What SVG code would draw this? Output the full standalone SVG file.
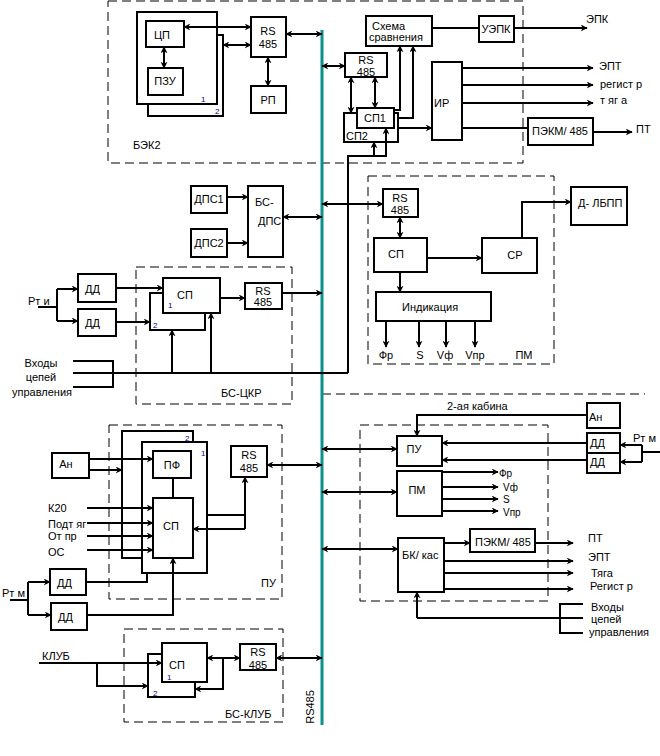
<svg xmlns="http://www.w3.org/2000/svg" width="660" height="756" viewBox="0 0 660 756">
<style>
.b{fill:#fff;stroke:#000;stroke-width:2}
.d{fill:none;stroke:#000;stroke-width:1;stroke-dasharray:9 5}
.c{fill:none;stroke:#000;stroke-width:2}
.ar{marker-end:url(#ah)}
.da{marker-start:url(#ah);marker-end:url(#ah)}
text{font-family:"Liberation Sans",Arial,sans-serif;font-size:11px;fill:#000}
.m{text-anchor:middle}
.n{font-size:8px;fill:#00008b}
.s{font-size:10px}
</style>
<defs>
<marker id="ah" viewBox="0 0 10 10" refX="9" refY="5" markerWidth="7" markerHeight="7" markerUnits="userSpaceOnUse" orient="auto-start-reverse"><path d="M0,0 L10,5 L0,10 L3,5 z" fill="#000"/></marker>
</defs>
<rect width="660" height="756" fill="#fff"/>

<g id="frames">
<rect class="d" x="108" y="1" width="415" height="162"/>
<rect class="d" x="368" y="176" width="186" height="188"/>
<rect class="d" x="136" y="267" width="156" height="137"/>
<rect class="d" x="109" y="425" width="173" height="174"/>
<rect class="d" x="360" y="425" width="188" height="176"/>
<rect class="d" x="124" y="629" width="159" height="93"/>
<line class="d" x1="322" y1="394" x2="645" y2="394"/>
<text x="133" y="149">БЭК2</text>
<text x="221" y="397">БС-ЦКР</text>
<text x="261" y="587">ПУ</text>
<text x="225" y="718">БС-КЛУБ</text>
<text x="524" y="359" class="m">ПМ</text>
</g>

<g id="bus">
<line x1="322" y1="30" x2="322" y2="725" stroke="#0a918e" stroke-width="3"/>
<text transform="translate(314,707) rotate(-90)" class="m">RS485</text>
</g>

<g id="bek2-box2"><rect class="b" x="148" y="35" width="75" height="81"/><text x="215" y="114" class="n">2</text></g>
<g id="bek2-box1"><rect class="b" x="137" y="12" width="80" height="92"/><text x="201" y="102" class="n">1</text></g>
<g id="cp"><rect class="b" x="146" y="21" width="38" height="26"/><text x="162" y="39" class="m">ЦП</text></g>
<g id="pzu"><rect class="b" x="148" y="68" width="35" height="27"/><text x="165" y="85" class="m">ПЗУ</text></g>
<g id="rs1"><rect class="b" x="251" y="17" width="35" height="40"/><text x="268" y="35" class="m">RS</text><text x="268" y="48" class="m">485</text></g>
<g id="rp"><rect class="b" x="251" y="86" width="35" height="27"/><text x="268" y="104" class="m">РП</text></g>

<g id="schema"><rect class="b" x="366" y="16" width="66" height="30"/><text x="372" y="30">Схема</text><text x="369" y="41">сравнения</text></g>
<g id="rs2"><rect class="b" x="345" y="53" width="42" height="24"/><text x="366" y="64" class="m">RS</text><text x="366" y="76" class="m">485</text></g>
<g id="sp2"><rect class="b" x="344" y="113" width="54" height="29"/><text x="346" y="140">СП2</text></g>
<g id="sp1"><rect class="b" x="357" y="108" width="37" height="20"/><text x="375" y="122" class="m">СП1</text></g>
<g id="ir"><rect class="b" x="432" y="62" width="30" height="78"/><text x="434" y="107">ИР</text></g>
<g id="uepk"><rect class="b" x="479" y="16" width="35" height="26"/><text x="496" y="33" class="m">УЭПК</text></g>
<g id="pekm1"><rect class="b" x="528" y="118" width="65" height="27"/><text x="560" y="135" class="m">ПЭКМ/ 485</text></g>
<g id="out-top">
<text x="586" y="23">ЭПК</text>
<text x="599" y="70">ЭПТ</text>
<text x="600" y="88">регист р</text>
<text x="600" y="104">т яг а</text>
<text x="636" y="133">ПТ</text>
</g>

<g id="dps1"><rect class="b" x="191" y="186" width="36" height="27"/><text x="209" y="203" class="m">ДПС1</text></g>
<g id="dps2"><rect class="b" x="191" y="229" width="36" height="28"/><text x="209" y="247" class="m">ДПС2</text></g>
<g id="bs-dps"><rect class="b" x="248" y="186" width="35" height="71"/><text x="255" y="206">БС-</text><text x="258" y="225">ДПС</text></g>

<g id="rs-pm"><rect class="b" x="383" y="189" width="35" height="28"/><text x="400" y="202" class="m">RS</text><text x="400" y="214" class="m">485</text></g>
<g id="sp-pm"><rect class="b" x="374" y="238" width="53" height="34"/><text x="396" y="258" class="m">СП</text></g>
<g id="sr"><rect class="b" x="482" y="238" width="55" height="35"/><text x="515" y="259" class="m">СР</text></g>
<g id="dlbpp"><rect class="b" x="571" y="187" width="56" height="38"/><text x="578" y="207">Д- ЛБПП</text></g>
<g id="ind"><rect class="b" x="376" y="292" width="115" height="29"/><text x="402" y="311">Индикация</text></g>
<g id="pm-out">
<text x="386" y="359" class="m">Фр</text>
<text x="420" y="359" class="m">S</text>
<text x="445" y="359" class="m">Vф</text>
<text x="475" y="359" class="m">Vпр</text>
</g>

<g id="dd-rti1"><rect class="b" x="78" y="274" width="38" height="28"/><text x="85" y="293">ДД</text></g>
<g id="dd-rti2"><rect class="b" x="78" y="309" width="38" height="27"/><text x="85" y="327">ДД</text></g>
<text x="28" y="305">Рт и</text>
<g id="sp-ckr2"><rect class="b" x="150" y="293" width="55" height="37"/><text x="153" y="328" class="n">2</text></g>
<g id="sp-ckr1"><rect class="b" x="163" y="278" width="57" height="35"/><text x="185" y="299" class="m">СП</text><text x="168" y="308" class="n">1</text></g>
<g id="rs-ckr"><rect class="b" x="245" y="283" width="37" height="26"/><text x="263" y="295" class="m">RS</text><text x="263" y="306" class="m">485</text></g>
<g id="inputs-left">
<text x="41" y="367" class="m">Входы</text>
<text x="41" y="381" class="m">цепей</text>
<text x="42" y="396" class="m">управления</text>
</g>

<g id="pu-box2"><rect class="b" x="122" y="431" width="71" height="127"/><text x="185" y="441" class="n">2</text></g>
<g id="pu-box1"><rect class="b" x="142" y="442" width="65" height="131"/><text x="201" y="456" class="n">1</text></g>
<g id="pf"><rect class="b" x="153" y="451" width="38" height="27"/><text x="172" y="469" class="m">ПФ</text></g>
<g id="sp-pu"><rect class="b" x="153" y="498" width="40" height="60"/><text x="171" y="530" class="m">СП</text></g>
<g id="an-l"><rect class="b" x="52" y="453" width="37" height="25"/><text x="66" y="468" class="m">Ан</text></g>
<g id="pu-in">
<text x="48" y="512">К20</text>
<text x="48" y="528">Подт яг</text>
<text x="48" y="540">От пр</text>
<text x="48" y="556">ОС</text>
</g>
<g id="rs-pu"><rect class="b" x="231" y="446" width="36" height="31"/><text x="249" y="459" class="m">RS</text><text x="249" y="472" class="m">485</text></g>
<text x="2" y="597">Рт м</text>
<g id="dd-rtm1"><rect class="b" x="50" y="569" width="36" height="26"/><text x="57" y="587">ДД</text></g>
<g id="dd-rtm2"><rect class="b" x="51" y="603" width="36" height="27"/><text x="58" y="621">ДД</text></g>

<g id="an-r"><rect class="b" x="587" y="403" width="33" height="25"/><text x="589" y="421">Ан</text></g>
<g id="dd-r1"><rect class="b" x="587" y="433" width="33" height="20"/><text x="590" y="447">ДД</text></g>
<g id="dd-r2"><rect class="b" x="587" y="453" width="33" height="20"/><text x="590" y="466">ДД</text></g>
<text x="633" y="442">Рт м</text>
<text x="447" y="410">2-ая кабина</text>
<g id="pu-r"><rect class="b" x="397" y="436" width="45" height="30"/><text x="414" y="453" class="m">ПУ</text></g>
<g id="pm-r"><rect class="b" x="397" y="471" width="45" height="45"/><text x="417" y="494" class="m">ПМ</text></g>
<g id="bk"><rect class="b" x="398" y="538" width="46" height="54"/><text x="402" y="559">БК/ кас</text></g>
<g id="pm-r-out">
<text x="499" y="477" class="s">Фр</text>
<text x="503" y="491" class="s">Vф</text>
<text x="503" y="503" class="s">S</text>
<text x="503" y="516" class="s">Vпр</text>
</g>
<g id="pekm2"><rect class="b" x="470" y="529" width="65" height="23"/><text x="475" y="546">ПЭКМ/ 485</text></g>
<g id="bk-out">
<text x="588" y="542">ПТ</text>
<text x="588" y="561">ЭПТ</text>
<text x="591" y="577">Тяга</text>
<text x="590" y="590">Регист р</text>
</g>
<g id="inputs-right">
<text x="591" y="611">Входы</text>
<text x="591" y="623">цепей</text>
<text x="589" y="636">управления</text>
</g>

<text x="42" y="660">КЛУБ</text>
<g id="klub-box2"><rect class="b" x="148" y="654" width="47" height="43"/><text x="153" y="696" class="n">2</text></g>
<g id="klub-box1"><rect class="b" x="162" y="643" width="45" height="39"/><text x="177" y="669" class="m">СП</text><text x="167" y="680" class="n">1</text></g>
<g id="rs-klub"><rect class="b" x="240" y="644" width="36" height="26"/><text x="258" y="656" class="m">RS</text><text x="258" y="669" class="m">485</text></g>

<g id="connectors">
<path class="c da" d="M184,27 H251"/>
<path class="c da" d="M223,45 H251"/>
<path class="c da" d="M268,57 V86"/>
<path class="c da" d="M286,34 H322"/>
<path class="c da" d="M164,47 V68"/>
<path class="c da" d="M322,66 H345"/>
<path class="c da" d="M351,77 V113"/>
<path class="c da" d="M375,77 V108"/>
<path class="c ar" d="M394,110 H400 V46"/>
<path class="c ar" d="M398,118 H413 V46"/>
<path class="c ar" d="M398,128 H432"/>
<path class="c ar" d="M348,373 V156 H386 V128"/>
<path class="c ar" d="M374,156 V142"/>
<path class="c" d="M432,28 H479"/>
<path class="c ar" d="M514,28 H587"/>
<path class="c ar" d="M462,68 H593"/>
<path class="c ar" d="M462,85 H593"/>
<path class="c ar" d="M462,103 H593"/>
<path class="c" d="M462,128 H528"/>
<path class="c ar" d="M593,132 H632"/>
<path class="c ar" d="M227,197 H248"/>
<path class="c ar" d="M227,243 H248"/>
<path class="c da" d="M283,217 H322"/>
<path class="c da" d="M322,204 H383"/>
<path class="c da" d="M400,217 V238"/>
<path class="c ar" d="M400,272 V292"/>
<path class="c ar" d="M427,258 H482"/>
<path class="c ar" d="M522,238 V202 H571"/>
<path class="c ar" d="M386,321 V347"/>
<path class="c ar" d="M419,321 V347"/>
<path class="c ar" d="M446,321 V347"/>
<path class="c ar" d="M475,321 V347"/>
<path class="c" d="M38,307 H57 M57,289 V321"/>
<path class="c ar" d="M57,289 H78"/>
<path class="c ar" d="M57,321 H78"/>
<path class="c ar" d="M116,288 H163"/>
<path class="c ar" d="M116,322 H150"/>
<path class="c ar" d="M220,298 H245"/>
<path class="c ar" d="M282,293 H322"/>
<path class="c" d="M73,361 H113 V387 H73 M73,373 H348"/>
<path class="c ar" d="M172,373 V330"/>
<path class="c ar" d="M211,373 V313"/>
<path class="c ar" d="M89,459 H153"/>
<path class="c ar" d="M89,470 H122"/>
<path class="c ar" d="M87,508 H153"/>
<path class="c ar" d="M87,523 H153"/>
<path class="c ar" d="M87,536 H153"/>
<path class="c ar" d="M87,550 H153"/>
<path class="c" d="M173,478 V498"/>
<path class="c" d="M207,515 H245"/>
<path class="c ar" d="M245,529 V477"/>
<path class="c ar" d="M245,529 H193"/>
<path class="c da" d="M267,465 H322"/>
<path class="c" d="M10,600 H28 M28,582 V615"/>
<path class="c ar" d="M28,582 H50"/>
<path class="c ar" d="M28,615 H51"/>
<path class="c" d="M86,582 H147 V573"/>
<path class="c ar" d="M87,615 H173 V558"/>
<path class="c ar" d="M587,415 H417 V436"/>
<path class="c" d="M660,452 H642 M642,445 V462"/>
<path class="c ar" d="M642,445 H620"/>
<path class="c ar" d="M642,462 H620"/>
<path class="c ar" d="M587,443 H442"/>
<path class="c ar" d="M587,460 H442"/>
<path class="c da" d="M322,449 H397"/>
<path class="c da" d="M322,492 H397"/>
<path class="c da" d="M322,549 H398"/>
<path class="c ar" d="M442,472 H498"/>
<path class="c ar" d="M442,487 H498"/>
<path class="c ar" d="M442,499 H498"/>
<path class="c ar" d="M442,511 H498"/>
<path class="c ar" d="M444,543 H470"/>
<path class="c ar" d="M535,543 H573"/>
<path class="c ar" d="M444,561 H573"/>
<path class="c ar" d="M444,573 H573"/>
<path class="c ar" d="M444,589 H573"/>
<path class="c" d="M583,604 H560 V633 H583 M583,618 H417"/>
<path class="c ar" d="M417,618 V592"/>
<path class="c ar" d="M39,663 H162"/>
<path class="c ar" d="M97,663 V686 H148"/>
<path class="c da" d="M207,658 H240"/>
<path class="c ar" d="M223,658 V689 H195"/>
<path class="c da" d="M276,658 H322"/>
</g>
</svg>
